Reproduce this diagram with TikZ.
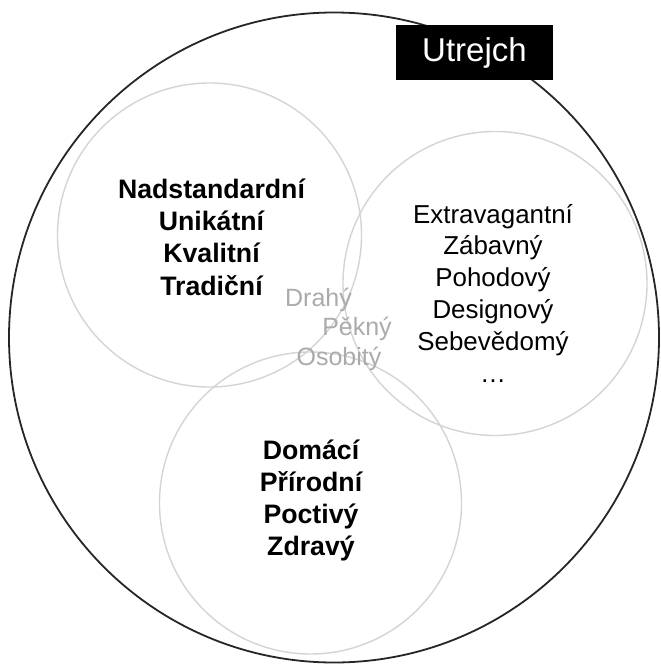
\documentclass[tikz,border=0pt]{standalone}
\usepackage{fontspec}
\setmainfont{Liberation Sans}
\definecolor{ringgray}{HTML}{D4D4D4}
\definecolor{midgray}{HTML}{ABABAB}
\begin{document}
\begin{tikzpicture}[x=1pt,y=-1pt,
  ring/.style={draw=ringgray,line width=1.4pt},
  outer/.style={draw=black!85,line width=1.8pt},
  boldlist/.style={align=center,inner sep=0pt,anchor=base,font=\fontsize{26.7}{32.3}\selectfont\bfseries},
  plainlist/.style={align=center,inner sep=0pt,anchor=base,font=\fontsize{25.9}{31.8}\selectfont},
  midword/.style={inner sep=0pt,anchor=base,text=midgray,font=\fontsize{25}{30}\selectfont},
  tagbox/.style={fill=black,text=white,minimum width=157pt,minimum height=55pt,inner sep=0pt,font=\fontsize{33}{38}\selectfont}]
\useasboundingbox (0,0) rectangle (661,664);
\fill[white] (0,0) rectangle (661,664);
% circles
\draw[ring] (209.5,235) circle (152);
\draw[ring] (495,283.5) circle (152);
\draw[ring] (310.5,503) circle (151);
\draw[outer] (334,337.5) circle (325);
% texts (base anchor = baseline of the last line)
\node[boldlist] (quality) at (211.5,295) {Nadstandardní\\Unikátní\\Kvalitní\\Tradiční};
\node[plainlist] (fun) at (493,382) {Extravagantní\\Zábavný\\Pohodový\\Designový\\Sebevědomý\\…};
\node[boldlist,font=\fontsize{26.7}{32}\selectfont\bfseries] (home) at (311,555) {Domácí\\Přírodní\\Poctivý\\Zdravý};
\node[midword] (w1) at (318.5,306) {Drahý};
\node[midword] (w2) at (357,335) {Pěkný};
\node[midword] (w3) at (339,365) {Osobitý};
% tag
\node[tagbox] (tag) at (474.5,52.5) {Utrejch};
\end{tikzpicture}
\end{document}
